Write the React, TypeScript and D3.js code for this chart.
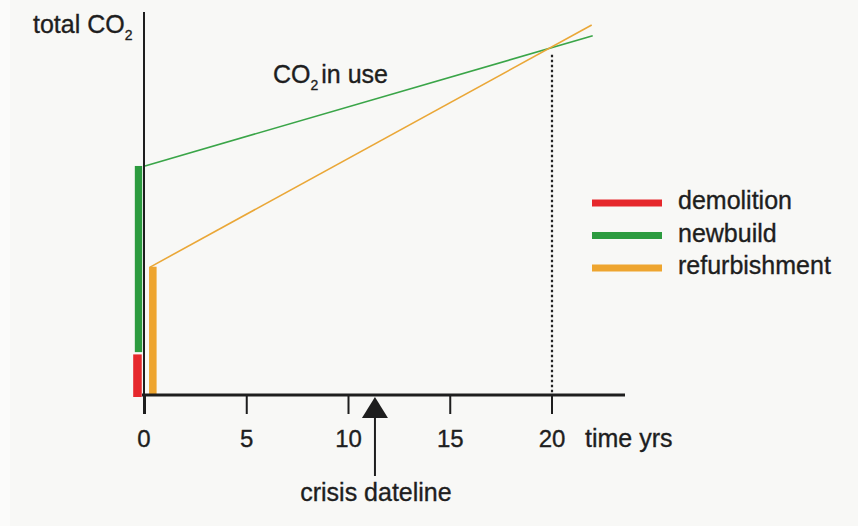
import React from "react";
import * as d3 from "d3";

// ---- data ----
const tickYears = [0, 5, 10, 15, 20];
const legendNames = ["demolition", "newbuild", "refurbishment"];
const legendColors = ["#e6282c", "#2c9b3f", "#eea52f"];

// embodied CO2 bars (value units, arbitrary 0-100 scale)
const barNames = ["demolition", "newbuild", "refurbishment"];
const barLow = [0, 11.2, 0];
const barHigh = [10.6, 59.8, 33.5];
const barYearFrom = [-0.58, -0.5, 0.2];
const barYearTo = [-0.16, -0.14, 0.57];

// CO2 in use lines
const newbuildYears = [0, 22];
const newbuildValues = [59.8, 93.8];
const refurbYears = [0.25, 21.95];
const refurbValues = [33.4, 96.6];

const breakEvenYear = 20;
const breakEvenValue = 90.4;
const crisisYear = 11.3;

const W = 858;
const H = 526;

export default function App() {
  const x = d3.scaleLinear().domain([0, 20]).range([145, 552]);
  const y = d3.scaleLinear().domain([0, 100]).range([395, 12]);
  const line = d3
    .line<[number, number]>()
    .x((d) => x(d[0]))
    .y((d) => y(d[1]));

  const nbPts = newbuildYears.map((t, i) => [t, newbuildValues[i]] as [number, number]);
  const rfPts = refurbYears.map((t, i) => [t, refurbValues[i]] as [number, number]);

  const font = "'Liberation Sans', Arial, Helvetica, sans-serif";
  const ink = "#1e1e1e";
  const fs = 25;
  const tfs = 24;
  const cx = x(crisisYear);
  const axisY = y(0);
  const textProps = { fill: ink, stroke: ink, strokeWidth: 0.35 };

  return (
    <div style={{ position: "fixed", left: 0, top: 0 }}>
      <svg width={W} height={H} viewBox={`0 0 ${W} ${H}`} style={{ display: "block" }} fontFamily={font}>
        <rect x={0} y={0} width={W} height={H} fill="#fbfbfa" />
        <rect x={10} y={0} width={W - 10} height={H} fill="#f8f8f6" />

        {/* bars */}
        {barNames.map((n, i) => (
          <rect
            key={n}
            x={x(barYearFrom[i])}
            width={x(barYearTo[i]) - x(barYearFrom[i])}
            y={y(barHigh[i])}
            height={y(barLow[i]) - y(barHigh[i]) + (i === 0 ? 2 : 0)}
            fill={legendColors[i]}
          />
        ))}

        {/* lines */}
        <path d={line(nbPts) || ""} fill="none" stroke="#3aa548" strokeWidth={1.6} />
        <path d={line(rfPts) || ""} fill="none" stroke="#eaa737" strokeWidth={1.6} />

        {/* break-even dotted line */}
        <line
          x1={x(breakEvenYear)}
          x2={x(breakEvenYear)}
          y1={y(breakEvenValue) + 6}
          y2={axisY}
          stroke="#222"
          strokeWidth={2.2}
          strokeDasharray="2.5,2.5"
        />

        {/* y axis */}
        <line x1={x(0) - 1} x2={x(0) - 1} y1={12} y2={414} stroke={ink} strokeWidth={2} />
        {/* x axis */}
        <line x1={x(0) - 3} x2={625} y1={axisY} y2={axisY} stroke={ink} strokeWidth={3} />
        {tickYears.map((t) => (
          <g key={t}>
            <line x1={x(t)} x2={x(t)} y1={axisY} y2={414} stroke={ink} strokeWidth={2} />
            <text x={x(t) - (t === 0 ? 1 : 0)} y={447} fontSize={tfs} textAnchor="middle" {...textProps}>
              {t}
            </text>
          </g>
        ))}
        <text x={585} y={447} fontSize={fs} {...textProps}>
          time yrs
        </text>

        {/* crisis dateline arrow */}
        <path d={`M${cx},397 L${cx - 13},418 L${cx + 13},418 Z`} fill={ink} />
        <line x1={cx} x2={cx} y1={416} y2={476} stroke={ink} strokeWidth={2} />
        <text x={cx + 1} y={501} fontSize={fs} textAnchor="middle" {...textProps}>
          crisis dateline
        </text>

        {/* axis title */}
        <text x={33} y={33} fontSize={fs} {...textProps}>
          total CO<tspan fontSize={14} dy={7}>2</tspan>
        </text>
        <text x={273} y={83} fontSize={fs} {...textProps}>
          CO<tspan fontSize={14} dy={7}>2</tspan>
          <tspan dy={-7} dx={3}>in use</tspan>
        </text>

        {/* legend */}
        {legendNames.map((n, i) => (
          <g key={n}>
            <line
              x1={592}
              x2={662}
              y1={203 + i * 32.5}
              y2={203 + i * 32.5}
              stroke={legendColors[i]}
              strokeWidth={7}
            />
            <text x={678} y={209 + i * 32.5} fontSize={fs} {...textProps}>
              {n}
            </text>
          </g>
        ))}
      </svg>
    </div>
  );
}
